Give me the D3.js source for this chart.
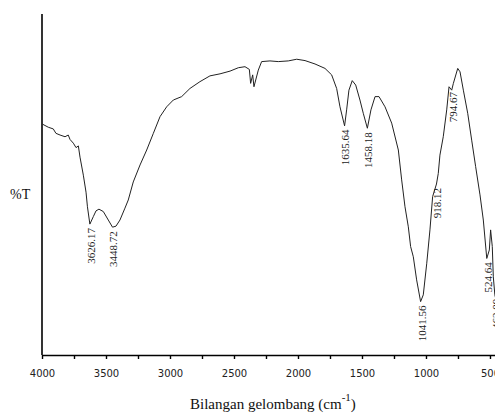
<!DOCTYPE html>
<html>
<head>
<meta charset="utf-8">
<script src="https://cdn.jsdelivr.net/npm/d3@7"></script>
<style>
  body { margin: 0; background: #fff; }
  svg { display: block; }
</style>
</head>
<body>
<div id="chart"></div>
<script>
var width = 495,
    height = 414;

// spectrum: wavenumber (cm-1) and %T
var wavenumber = [3996, 3951, 3912, 3891, 3859, 3820, 3795, 3781, 3755, 3734, 3716, 3703, 3677, 3656, 3645,
    3626, 3599, 3578, 3555, 3521, 3482, 3449, 3422, 3391, 3352, 3326, 3287, 3234, 3182, 3130, 3078, 3026,
    2974, 2909, 2844, 2766, 2688, 2609, 2531, 2466, 2414, 2380, 2370, 2354, 2344, 2310, 2284, 2219, 2154,
    2076, 2010, 1945, 1867, 1789, 1737, 1698, 1672, 1636, 1620, 1602, 1576, 1549, 1516, 1490, 1458, 1430,
    1398, 1367, 1320, 1268, 1216, 1190, 1164, 1138, 1120, 1099, 1073, 1042, 1021, 994, 969, 948, 918, 904,
    891, 865, 838, 820, 799, 786, 752, 734, 708, 674, 643, 612, 578, 552, 525, 505, 495, 482, 474, 462, 453];
var transmittance = [67.6, 66.7, 66.2, 64.9, 64.4, 63.9, 64.4, 63.1, 62.0, 60.7, 61.2, 57.9, 52.6, 47.6, 43.3,
    38.2, 40.4, 42.1, 42.6, 41.9, 39.4, 37.3, 37.6, 39.4, 42.9, 45.3, 50.6, 55.6, 60.0, 64.9, 69.8, 72.7,
    74.7, 75.7, 78.1, 80.1, 81.8, 82.4, 83.2, 84.2, 84.5, 83.7, 79.6, 82.1, 78.6, 83.5, 86.0, 86.2, 86.0,
    86.2, 86.7, 86.3, 85.3, 84.0, 82.1, 78.1, 72.7, 67.1, 71.8, 77.6, 80.4, 79.1, 74.7, 70.8, 66.4, 71.8,
    75.7, 75.7, 72.7, 67.9, 60.0, 51.2, 43.3, 37.4, 31.6, 28.6, 21.8, 15.4, 17.4, 26.7, 36.5, 46.3, 50.0, 53.1,
    58.5, 63.9, 71.8, 78.6, 77.6, 79.6, 84.0, 83.0, 77.6, 70.8, 62.9, 55.1, 46.8, 39.4, 28.1, 30.6, 36.5, 31.6, 22.7, 17.4, 15.9];

var peakLabels = [3626.17, 3448.72, 1635.64, 1458.18, 1041.56, 918.12, 794.67, 524.64, 462.09];
var xTicks = d3.range(4000, 249, -250);

var svg = d3.select("#chart").append("svg")
    .attr("width", width)
    .attr("height", height);

var x = d3.scaleLinear()
    .domain([4000, 460])
    .range([42, 495.1]);

var y = d3.scaleLinear()
    .domain([0, 100])
    .range([354, 14]);

var points = wavenumber.map(function(w, i) { return [w, transmittance[i]]; });

// x axis
var xAxis = d3.axisBottom(x)
    .tickValues(xTicks)
    .tickSize(4)
    .tickSizeOuter(0)
    .tickFormat(function(d) { return d % 500 === 0 ? d : ""; });

var gx = svg.append("g")
    .attr("transform", "translate(0,355)")
    .call(xAxis);

gx.select(".domain").attr("stroke", "#000").attr("stroke-width", 1.6);
gx.selectAll(".tick line").attr("stroke", "#000").attr("stroke-width", 1.4);
gx.selectAll(".tick text")
    .attr("y", 15)
    .attr("fill", "#222")
    .style("font-family", "DejaVu Sans, Verdana, sans-serif")
    .style("font-size", "10px");

// y axis (no ticks)
svg.append("line")
    .attr("x1", 42).attr("x2", 42)
    .attr("y1", 14).attr("y2", 355)
    .attr("stroke", "#000")
    .attr("stroke-width", 1.6);

// spectrum
var line = d3.line()
    .x(function(d) { return x(d[0]); })
    .y(function(d) { return y(d[1]); });

svg.append("path")
    .datum(points)
    .attr("d", line)
    .attr("fill", "none")
    .attr("stroke", "#222")
    .attr("stroke-width", 1);

// %T at any wavenumber, from the traced points
function valueAt(w) {
    for (var i = 0; i < points.length - 1; i++) {
        var a = points[i], b = points[i + 1];
        if (w <= a[0] && w >= b[0]) {
            var t = (a[0] - w) / (a[0] - b[0]);
            return a[1] + t * (b[1] - a[1]);
        }
    }
    return points[points.length - 1][1];
}

// peak labels, written upward just under each band
svg.append("g")
    .selectAll("text")
    .data(peakLabels)
    .enter()
    .append("text")
    .attr("transform", function(d) {
        return "translate(" + (x(d) + 1) + "," + (y(valueAt(d)) + 4) + ") rotate(-90)";
    })
    .attr("text-anchor", "end")
    .attr("dy", "0.35em")
    .attr("fill", "#222")
    .style("font-family", "Liberation Serif, Times New Roman, serif")
    .style("font-size", "11px")
    .text(function(d) { return d.toFixed(2); });

// axis titles
svg.append("text")
    .attr("x", 10)
    .attr("y", 199)
    .attr("fill", "#111")
    .style("font-family", "Liberation Serif, Times New Roman, serif")
    .style("font-size", "14px")
    .text("%T");

var title = svg.append("text")
    .attr("x", 190)
    .attr("y", 409)
    .attr("fill", "#111")
    .style("font-family", "Liberation Serif, Times New Roman, serif")
    .style("font-size", "15px");

title.append("tspan").text("Bilangan gelombang (cm");
title.append("tspan").attr("dy", -8).style("font-size", "11px").text("-1");
title.append("tspan").attr("dy", 8).text(")");
</script>
</body>
</html>
